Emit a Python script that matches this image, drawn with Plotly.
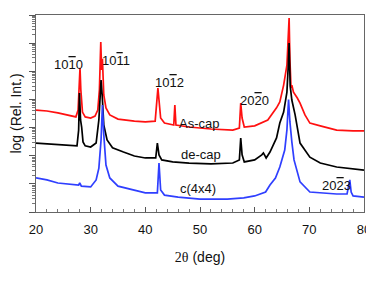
import plotly.graph_objects as go

# 2-theta (deg) and log10 of relative intensity
red_x = [20, 22, 24, 26, 27.3, 27.7, 27.9, 28.05, 28.2, 28.5, 29, 30, 30.8, 31.3, 31.6, 31.85, 32.0, 32.15, 32.4, 32.8,
         33.5, 35, 38, 40, 41.8, 42.1, 42.3, 42.5, 42.8, 43.5, 45.2, 45.4, 45.6, 48, 52, 56, 57.2, 57.45, 57.7, 58.1,
         60, 62.4, 64, 64.6, 65.3, 65.9, 66.15, 66.3, 66.45, 66.65, 66.8, 67.1, 67.8, 68.3, 69.2, 70.1, 72, 75, 78, 80]
red_log = [3.62, 3.59, 3.52, 3.45, 3.38, 3.62, 4.51, 5.12, 4.34, 3.55, 3.38, 3.34, 3.41, 3.62, 4.34, 6.04, 5.05, 5.44, 4.16, 3.70,
           3.45, 3.30, 3.23, 3.20, 3.23, 3.80, 4.40, 3.98, 3.34, 3.16, 3.09, 3.80, 3.09, 3.02, 2.95, 2.91, 2.98, 3.87, 3.34, 3.02,
           3.06, 3.27, 3.70, 3.91, 4.51, 5.22, 6.11, 6.89, 5.40, 4.41, 4.51, 4.26, 4.05, 3.87, 3.45, 3.16, 3.06, 2.91, 2.88, 2.88]

black_x = [20, 22, 24, 26, 27.5, 27.8, 27.95, 28.15, 28.35, 28.6, 29, 30, 31, 31.5, 31.9, 32.1, 32.4, 33, 34, 36,
           38, 40, 41.9, 42.2, 42.5, 43, 45, 48, 52, 56, 57.2, 57.45, 57.7, 58.1, 60, 61.3, 61.6, 62.1, 62.8, 64,
           64.6, 65.3, 65.9, 66.15, 66.3, 66.5, 66.8, 67.4, 68.3, 70.1, 72, 75, 78, 80]
black_log = [2.45, 2.42, 2.38, 2.35, 2.35, 2.91, 4.23, 3.27, 3.02, 2.49, 2.35, 2.31, 2.45, 3.27, 4.69, 4.16, 3.09, 2.56, 2.28, 2.13,
             1.99, 1.92, 1.92, 2.45, 2.03, 1.85, 1.78, 1.74, 1.71, 1.74, 1.85, 2.63, 2.03, 1.78, 1.85, 2.03, 2.10, 1.92, 2.13, 2.63,
             3.16, 3.55, 4.26, 5.22, 6.00, 4.48, 3.98, 3.45, 2.45, 1.95, 1.74, 1.60, 1.53, 1.49]

blue_x = [20, 22, 24, 26, 27.8, 28.0, 28.3, 30, 31, 31.5, 31.9, 32.15, 32.4, 32.8, 33.5, 35, 38, 40, 42.2, 42.5,
          42.8, 43.5, 46, 50, 55, 58, 60, 62, 62.8, 63.8, 64.6, 65.5, 65.9, 66.2, 66.45, 66.65, 66.8, 67.2, 68.3, 70.1,
          72, 75, 76.9, 77.2, 77.4, 77.65, 78, 80]
blue_log = [1.21, 1.14, 1.03, 0.99, 0.96, 1.03, 0.92, 0.89, 1.14, 1.56, 2.56, 3.80, 2.74, 1.67, 1.21, 0.92, 0.78, 0.68, 0.68, 1.74,
            0.78, 0.60, 0.53, 0.46, 0.46, 0.50, 0.57, 0.71, 0.96, 1.21, 1.60, 2.20, 2.92, 4.00, 3.20, 2.90, 2.49, 1.85, 1.07, 0.71,
            0.68, 0.64, 0.64, 0.96, 1.14, 0.71, 0.57, 0.53]

OL = "<span style='text-decoration:overline'>{}</span>"
peak_label_text = ["10" + OL.format("1") + "0", "10" + OL.format("1") + "1", "10" + OL.format("1") + "2",
                   "20" + OL.format("2") + "0", "20" + OL.format("2") + "3"]
peak_label_x = [25.9, 34.7, 44.4, 59.9, 74.9]
peak_label_log = [5.25, 5.4, 4.6, 3.95, 0.95]

series_names = ["As-cap", "de-cap", "c(4x4)"]
series_label_x = [49.9, 50.1, 49.7]
series_label_log = [3.16, 2.03, 0.82]

fig = go.Figure()
for xs, ls, col, name in [(red_x, red_log, "#ff1010", "As-cap"),
                          (black_x, black_log, "#000000", "de-cap"),
                          (blue_x, blue_log, "#2f3fff", "c(4x4)")]:
    fig.add_trace(go.Scatter(x=xs, y=[10 ** v for v in ls], mode="lines", name=name,
                             line=dict(color=col, width=1.7), showlegend=False))

for t, x, lv in zip(peak_label_text, peak_label_x, peak_label_log):
    fig.add_annotation(x=x, y=lv, yref="y", text=t, showarrow=False,
                       font=dict(family="Arial", size=13, color="#111"))
for t, x, lv in zip(series_names, series_label_x, series_label_log):
    fig.add_annotation(x=x, y=lv, text=t, showarrow=False,
                       font=dict(family="Arial", size=13, color="#111"))

# page body adds an 8px offset; figure sized so the plot box sits at 36..364 x 15..212 in the window
fig.update_layout(
    width=366, height=258,
    margin=dict(l=28, r=10, t=7, b=54),
    paper_bgcolor="white", plot_bgcolor="white",
    font=dict(family="Arial", size=13, color="#111"),
)
fig.update_xaxes(range=[20, 80], dtick=10, tick0=20, ticks="inside", ticklen=5, tickcolor="#555",
                 showline=True, linecolor="#666", linewidth=1, mirror=True, showgrid=False, zeroline=False,
                 minor=dict(ticks="inside", dtick=2, ticklen=3, tickcolor="#777"),
                 tickfont=dict(size=13), automargin=False, ticklabelstandoff=5, ticklabeloverflow="allow",
                 title=dict(text="<span style='font-family:Times New Roman'>2θ</span> (deg)",
                            font=dict(size=14), standoff=16))
fig.update_yaxes(type="log", range=[0, 7], dtick=1, ticks="outside", ticklen=6, tickcolor="#555",
                 showticklabels=False, showline=True, linecolor="#666", linewidth=1, mirror=True,
                 showgrid=False, zeroline=False, automargin=False,
                 minor=dict(ticks="outside", ticklen=3, tickcolor="#777"),
                 title=dict(text="log (Rel. Int.)", font=dict(size=14), standoff=6))

fig.write_html("out.html")
